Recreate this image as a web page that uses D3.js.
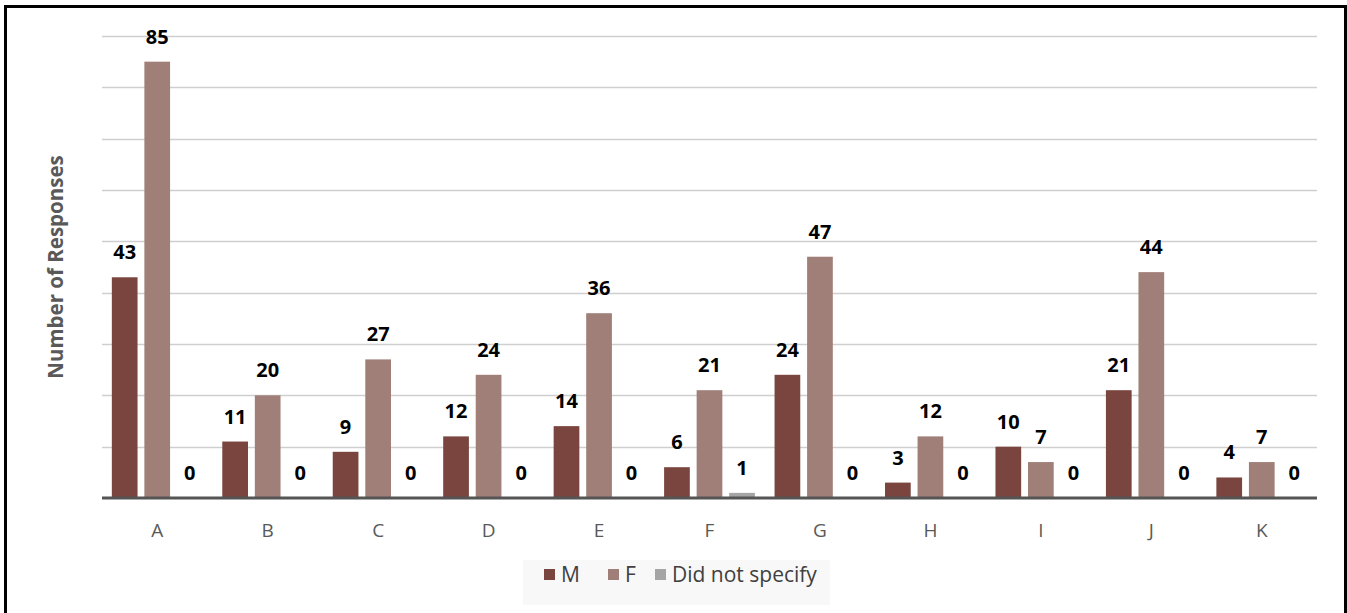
<!DOCTYPE html>
<html>
<head>
<meta charset="utf-8">
<script src="https://cdn.jsdelivr.net/npm/d3@7"></script>
<style>
  html, body { margin: 0; padding: 0; background: #fff; }
  svg { display: block; font-family: "Open Sans", "DejaVu Sans", sans-serif; }
</style>
</head>
<body>
<svg id="chart" width="1347" height="613"></svg>
<script>
const categories = ["A", "B", "C", "D", "E", "F", "G", "H", "I", "J", "K"];
const seriesNames = ["M", "F", "Did not specify"];
const valuesM = [43, 11, 9, 12, 14, 6, 24, 3, 10, 21, 4];
const valuesF = [85, 20, 27, 24, 36, 21, 47, 12, 7, 44, 7];
const valuesDNS = [0, 0, 0, 0, 0, 1, 0, 0, 0, 0, 0];
const seriesColors = ["#7A453F", "#A07F78", "#A5A5A5"];
const yTicks = [0, 10, 20, 30, 40, 50, 60, 70, 80, 90];

const seriesValues = [valuesM, valuesF, valuesDNS];
const svg = d3.select("#chart");

// outer frame
svg.append("rect")
  .attr("x", 5.5).attr("y", 6.5)
  .attr("width", 1340).attr("height", 620)
  .attr("fill", "none").attr("stroke", "#000").attr("stroke-width", 3);

const plotLeft = 102, plotRight = 1317, plotTop = 36, plotBottom = 498;

const y = d3.scaleLinear().domain([0, 90]).range([plotBottom, plotTop]);
const x0 = d3.scaleBand().domain(categories).range([plotLeft, plotRight]).padding(0);
const gpad = x0.bandwidth() * 0.089;
const x1 = d3.scaleBand().domain(seriesNames)
  .range([gpad, x0.bandwidth() - gpad]).paddingInner(0.21).paddingOuter(0);

// gridlines
svg.append("g")
  .selectAll("line")
  .data(yTicks.filter(t => t > 0))
  .join("line")
  .attr("x1", plotLeft).attr("x2", plotRight)
  .attr("y1", d => Math.round(y(d)) + 0.5).attr("y2", d => Math.round(y(d)) + 0.5)
  .attr("stroke", "#CFCFCF").attr("stroke-width", 1.3);

// bars
const groups = svg.append("g")
  .selectAll("g")
  .data(categories)
  .join("g")
  .attr("transform", d => `translate(${x0(d)},0)`);

groups.selectAll("rect")
  .data((c, i) => seriesNames.map((s, j) => ({ s, j, v: seriesValues[j][i] })))
  .join("rect")
  .attr("x", d => x1(d.s))
  .attr("width", x1.bandwidth())
  .attr("y", d => y(d.v))
  .attr("height", d => y(0) - y(d.v))
  .attr("fill", d => seriesColors[d.j]);

// value labels
groups.selectAll("text")
  .data((c, i) => seriesNames.map((s, j) => ({ s, j, v: seriesValues[j][i] })))
  .join("text")
  .attr("x", d => x1(d.s) + x1.bandwidth() / 2)
  .attr("y", d => y(d.v) - 18)
  .attr("text-anchor", "middle")
  .attr("font-size", 20)
  .attr("font-weight", "bold")
  .attr("fill", "#000")
  .text(d => d.v);

// x axis baseline
svg.append("line")
  .attr("x1", plotLeft).attr("x2", plotRight)
  .attr("y1", y(0)).attr("y2", y(0))
  .attr("stroke", "#555555").attr("stroke-width", 3);

// category labels
const xAxis = d3.axisBottom(x0).tickSize(0).tickPadding(0);
const xg = svg.append("g").attr("transform", `translate(0,${plotBottom})`).call(xAxis);
xg.select(".domain").remove();
xg.selectAll("text")
  .attr("y", 39).attr("dy", null)
  .attr("font-size", 19)
  .attr("font-family", "'Open Sans', sans-serif")
  .attr("fill", "#595959");

// y axis title
svg.append("text")
  .attr("transform", "translate(63,267) rotate(-90)")
  .attr("text-anchor", "middle")
  .attr("font-size", 20.5)
  .attr("font-weight", "bold")
  .attr("fill", "#595959")
  .text("Number of Responses");

// legend
const legend = svg.append("g");
legend.append("rect")
  .attr("x", 523).attr("y", 560).attr("width", 307).attr("height", 45)
  .attr("fill", "#F8F8F8");
const legendX = [544, 608, 655];
const li = legend.selectAll("g.item")
  .data(seriesNames)
  .join("g").attr("class", "item")
  .attr("transform", (d, i) => `translate(${legendX[i]},569)`);
li.append("rect")
  .attr("width", 11).attr("height", 11)
  .attr("fill", (d, i) => seriesColors[i]);
li.append("text")
  .attr("x", 17).attr("y", 13)
  .attr("font-size", 21)
  .attr("fill", "#404040")
  .text(d => d);
</script>
</body>
</html>
